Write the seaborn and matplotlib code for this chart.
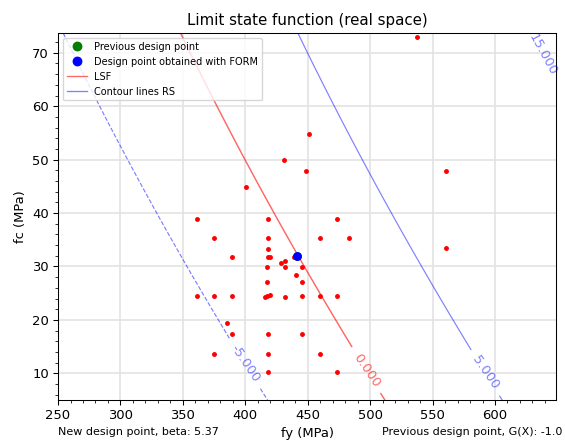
import numpy as np
import pandas as pd
import seaborn as sns
import matplotlib
matplotlib.use("Agg")
import matplotlib.pyplot as plt
from matplotlib.lines import Line2D
from matplotlib.ticker import MultipleLocator

# sample points (fy, fc) in MPa
fy_pts = [450.7, 430.9, 448.6, 400.3, 361.5, 418.0, 473.2, 375.2, 418.0, 459.8,
          483.1, 418.0, 389.6, 418.0, 419.6, 438.9, 445.3, 428.7, 431.4, 431.7,
          417.2, 441.0, 445.3, 417.2, 361.5, 375.2, 389.6, 416.0, 417.5, 419.6,
          431.7, 445.3, 459.8, 473.2, 385.6, 389.6, 418.0, 445.3, 375.2, 418.0,
          459.8, 418.0, 473.2, 537.8, 560.5, 560.5]
fc_pts = [54.8, 49.9, 47.8, 44.8, 38.8, 38.8, 38.8, 35.3, 35.3, 35.3,
          35.3, 33.2, 31.7, 31.7, 31.7, 31.7, 29.9, 30.7, 31.0, 29.9,
          29.9, 28.4, 27.0, 27.0, 24.4, 24.4, 24.4, 24.3, 24.5, 24.6,
          24.3, 24.4, 24.4, 24.4, 19.4, 17.3, 17.3, 17.3, 13.7, 13.7,
          13.7, 10.2, 10.2, 73.0, 47.8, 33.4]

prev_design = [441.8, 32.0]
new_design = [441.8, 32.0]
beta = 5.37
g_prev = -1.0

# response surface G = c0 + c1*fy + c2*fc + c3*fc^2
rs_coef = [-27.95, 0.0532, 0.1458, -0.000242]
rs_levels = [-5, 5, 15]
lsf_levels = [0]


def response_surface(fy, fc, coef):
    """
    Evaluates the quadratic response surface on a grid.
    """
    return coef[0] + coef[1] * fy + coef[2] * fc + coef[3] * fc ** 2


def plot_limit_state(save_path):
    """
    Draws the sample points, the design points and the contour lines of G.
    """
    fig, ax = plt.subplots(figsize=(6.0, 4.756), dpi=94.2)
    fig.subplots_adjust(left=0.1027, right=0.984, bottom=0.1071, top=0.9263)

    fy_grid, fc_grid = np.meshgrid(np.linspace(240, 660, 300), np.linspace(0, 80, 300))
    g = response_surface(fy_grid, fc_grid, rs_coef)

    cs_rs = ax.contour(fy_grid, fc_grid, g, levels=rs_levels, colors='blue',
                       alpha=0.5, linewidths=0.9)
    rs_labels = ax.clabel(cs_rs, fmt='%.3f', fontsize=10,
                          manual=[(400, 11.9), (595.7, 10.7), (639, 69.8)])
    cs_lsf = ax.contour(fy_grid, fc_grid, g, levels=lsf_levels, colors='red',
                        alpha=0.6, linewidths=1.1)
    ax.clabel(cs_lsf, fmt='%.3f', fontsize=10, manual=[(500.8, 11.3)])
    for t in rs_labels:
        t.set_clip_on(False)

    pts = pd.DataFrame({'fy': fy_pts, 'fc': fc_pts})
    sns.scatterplot(data=pts, x='fy', y='fc', color='red', s=14, linewidth=0,
                    ax=ax, zorder=3)
    sns.scatterplot(x=[prev_design[0]], y=[prev_design[1]], color='green', s=45,
                    linewidth=0, ax=ax, zorder=4)
    sns.scatterplot(x=[new_design[0]], y=[new_design[1]], color='blue', s=45,
                    linewidth=0, ax=ax, zorder=5)

    handles = [
        Line2D([], [], marker='o', linestyle='', color='green', markersize=6.5),
        Line2D([], [], marker='o', linestyle='', color='blue', markersize=6.5),
        Line2D([], [], color='red', alpha=0.6, linewidth=1),
        Line2D([], [], color='blue', alpha=0.5, linewidth=1),
    ]
    labels = ['Previous design point', 'Design point obtained with FORM',
              'LSF', 'Contour lines RS']
    ax.legend(handles, labels, loc='upper left', fontsize=7.5)

    ax.set_xlim(250, 649)
    ax.set_ylim(5, 73.7)
    ax.xaxis.set_major_locator(MultipleLocator(50))
    ax.xaxis.set_minor_locator(MultipleLocator(10))
    ax.yaxis.set_major_locator(MultipleLocator(10))
    ax.yaxis.set_minor_locator(MultipleLocator(2))
    ax.grid(True, which='major', color='#e3e3e3', linewidth=1.3)
    ax.set_axisbelow(True)

    ax.set_title('Limit state function (real space)', fontsize=11.5)
    ax.set_xlabel('fy (MPa)')
    ax.set_ylabel('fc (MPa)')

    fig.text(0.103, 0.036, f'New design point, beta: {beta}', fontsize=8.5,
             ha='left', va='center')
    fig.text(0.995, 0.036, f'Previous design point, G(X): {g_prev}', fontsize=8.5,
             ha='right', va='center')

    fig.savefig(save_path, dpi=94.2)


plot_limit_state('out.png')
